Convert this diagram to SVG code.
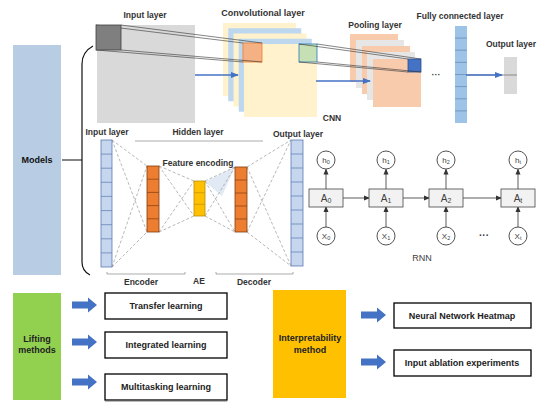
<svg xmlns="http://www.w3.org/2000/svg" width="553" height="408" viewBox="0 0 553 408">
<defs>
<style>
.lbl{font-family:"Liberation Sans",Arial,sans-serif;font-weight:bold;font-size:8.5px;fill:#333;text-anchor:middle}
.blbl{font-family:"Liberation Sans",Arial,sans-serif;font-weight:bold;font-size:9px;fill:#222;text-anchor:middle}
.rl{font-family:"Liberation Sans",Arial,sans-serif;font-size:9px;fill:#404040;text-anchor:middle}
.dash{stroke:#9a9a9a;stroke-width:0.7;stroke-dasharray:3 2;fill:none}
.thin{stroke:#333;stroke-width:0.6;fill:none}
.blue{stroke:#4472c4;stroke-width:1.6;fill:none}
.ib{fill:#c5d6ee;stroke:#5b7bb0;stroke-width:0.8}
.org{fill:#ed7d31;stroke:#843c0c;stroke-width:0.8}
.yel{fill:#ffc000;stroke:#bf9000;stroke-width:0.8}
.rbox{fill:#f2f2f2;stroke:#595959;stroke-width:0.9}
.rc{fill:#fff;stroke:#404040;stroke-width:0.9}
.ar{stroke:#333;stroke-width:0.8;fill:none}
.box{fill:#fff;stroke:#000;stroke-width:1.3}
.fat{fill:#4472c4}
</style>
<marker id="ba" markerWidth="8" markerHeight="8" refX="7" refY="4" orient="auto" markerUnits="userSpaceOnUse"><path d="M0,1 L8,4 L0,7 Z" fill="#4472c4"/></marker>
<marker id="ka" markerWidth="6" markerHeight="6" refX="5" refY="3" orient="auto" markerUnits="userSpaceOnUse"><path d="M0,0.5 L6,3 L0,5.5 Z" fill="#333"/></marker>
<path id="fatArrow" d="M0,-3.5 L16,-3.5 L16,-7.5 L25,0 L16,7.5 L16,3.5 L0,3.5 Z"/>
</defs>

<g id="models">
<rect x="13" y="45" width="48" height="230" fill="#b8cce4"/>
<text class="lbl" x="37" y="163" style="font-size:9px;fill:#111">Models</text>
<path d="M62,160 L82,160" stroke="#222" stroke-width="1.1"/>
<path d="M93,46 Q82,52 82,64 L82,262 Q82,271 90,275" stroke="#111" stroke-width="1.2" fill="none"/>
</g>

<g id="cnn">
<rect x="97" y="25" width="98" height="98" fill="#d9d9d9"/>
<text class="lbl" x="145" y="18">Input layer</text>
<g id="conv-layers">
<rect x="223" y="23" width="73" height="73" fill="#fff2cc"/>
<rect x="228.25" y="28.25" width="73" height="73" fill="#bdd7ee"/>
<rect x="233.5" y="33.5" width="73" height="73" fill="#fff2cc"/>
<rect x="238.75" y="38.75" width="73" height="73" fill="#bdd7ee"/>
<rect x="244" y="44" width="73" height="73" fill="#fff2cc"/>
<rect x="243" y="43" width="19" height="19" fill="#f4b183" stroke="#ed7d31" stroke-width="0.8"/>
<rect x="299" y="44" width="18" height="18" fill="#c5e0b4" stroke="#2e75b6" stroke-width="0.8"/>
</g>
<text class="lbl" x="263" y="16" style="font-size:9px">Convolutional layer</text>
<g id="pool-layers">
<rect x="350" y="34" width="48" height="48" fill="#f8cbad"/>
<rect x="356" y="40" width="48" height="48" fill="#e7e6e6"/>
<rect x="362" y="46" width="48" height="48" fill="#f8cbad"/>
<rect x="367" y="52" width="48" height="48" fill="#e7e6e6"/>
<rect x="373" y="59" width="48" height="48" fill="#f8cbad"/>
<rect x="408" y="59" width="13" height="13" fill="#4472c4" stroke="#2f528f" stroke-width="0.8"/>
</g>
<text class="lbl" x="375" y="28">Pooling layer</text>
<g class="thin">
<line x1="96" y1="25" x2="243" y2="43"/>
<line x1="121" y1="25" x2="262" y2="43"/>
<line x1="96" y1="50" x2="243" y2="62"/>
<line x1="121" y1="50" x2="262" y2="62"/>
<line x1="299" y1="44" x2="408" y2="59"/>
<line x1="317" y1="44" x2="421" y2="59"/>
<line x1="299" y1="62" x2="408" y2="72"/>
<line x1="317" y1="62" x2="421" y2="72"/>
</g>
<rect x="96" y="25" width="25" height="25" fill="#7f7f7f" stroke="#404040" stroke-width="0.8"/>
<line class="blue" x1="195" y1="75" x2="238" y2="75" marker-end="url(#ba)"/>
<line class="blue" x1="316" y1="81" x2="370" y2="81" marker-end="url(#ba)"/>
<text class="rl" x="436" y="78" style="font-weight:bold">···</text>
<g id="fc">
<rect x="455" y="26" width="12" height="97" fill="#9dc3e6"/>
<g stroke="#5b7bb0" stroke-width="0.6">
<line x1="455" y1="38.1" x2="467" y2="38.1"/><line x1="455" y1="50.2" x2="467" y2="50.2"/>
<line x1="455" y1="62.4" x2="467" y2="62.4"/><line x1="455" y1="74.5" x2="467" y2="74.5"/>
<line x1="455" y1="86.6" x2="467" y2="86.6"/><line x1="455" y1="98.8" x2="467" y2="98.8"/>
<line x1="455" y1="110.9" x2="467" y2="110.9"/>
</g>
</g>
<text class="lbl" x="460" y="19">Fully connected layer</text>
<rect x="504" y="57" width="13" height="37" fill="#d9d9d9"/>
<line x1="467" y1="75" x2="517" y2="75" stroke="#666" stroke-width="0.7"/>
<line class="blue" x1="466" y1="75" x2="502" y2="75" marker-end="url(#ba)"/>
<text class="lbl" x="511" y="47">Output layer</text>
<text class="lbl" x="332" y="121">CNN</text>
</g>

<g id="ae">
<text class="lbl" x="107" y="135">Input layer</text>
<text class="lbl" x="198" y="135">Hidden layer</text>
<text class="lbl" x="298" y="137">Output layer</text>
<line x1="135" y1="141" x2="263" y2="141" stroke="#888" stroke-width="0.7"/>
<polygon points="205,182 235,167 222,196" fill="#dae3f3" opacity="0.8"/>
<g class="dash">
<line x1="112" y1="140" x2="147" y2="166"/><line x1="112" y1="140" x2="147" y2="232"/>
<line x1="112" y1="267" x2="147" y2="166"/><line x1="112" y1="267" x2="147" y2="232"/>
<line x1="159" y1="166" x2="194" y2="181"/><line x1="159" y1="166" x2="194" y2="216"/>
<line x1="159" y1="232" x2="194" y2="181"/><line x1="159" y1="232" x2="194" y2="216"/>
<line x1="205" y1="181" x2="235" y2="167"/><line x1="205" y1="181" x2="235" y2="232"/>
<line x1="205" y1="216" x2="235" y2="167"/><line x1="205" y1="216" x2="235" y2="232"/>
<line x1="247" y1="167" x2="291" y2="140"/><line x1="247" y1="167" x2="291" y2="266"/>
<line x1="247" y1="232" x2="291" y2="140"/><line x1="247" y1="232" x2="291" y2="266"/>
</g>
<g id="ae-input">
<rect class="ib" x="101" y="140" width="11" height="127"/>
<g stroke="#5b7bb0" stroke-width="0.7">
<line x1="101" y1="154.1" x2="112" y2="154.1"/><line x1="101" y1="168.2" x2="112" y2="168.2"/>
<line x1="101" y1="182.3" x2="112" y2="182.3"/><line x1="101" y1="196.4" x2="112" y2="196.4"/>
<line x1="101" y1="210.6" x2="112" y2="210.6"/><line x1="101" y1="224.7" x2="112" y2="224.7"/>
<line x1="101" y1="238.8" x2="112" y2="238.8"/><line x1="101" y1="252.9" x2="112" y2="252.9"/>
</g>
</g>
<g id="ae-encoder">
<rect class="org" x="147" y="166" width="12" height="66"/>
<g stroke="#843c0c" stroke-width="0.7">
<line x1="147" y1="179.2" x2="159" y2="179.2"/><line x1="147" y1="192.4" x2="159" y2="192.4"/>
<line x1="147" y1="205.6" x2="159" y2="205.6"/><line x1="147" y1="218.8" x2="159" y2="218.8"/>
</g>
</g>
<g id="ae-code">
<rect class="yel" x="194" y="181" width="11" height="35"/>
<g stroke="#bf9000" stroke-width="0.7">
<line x1="194" y1="192.7" x2="205" y2="192.7"/><line x1="194" y1="204.3" x2="205" y2="204.3"/>
</g>
</g>
<g id="ae-decoder">
<rect class="org" x="235" y="167" width="12" height="65"/>
<g stroke="#843c0c" stroke-width="0.7">
<line x1="235" y1="180" x2="247" y2="180"/><line x1="235" y1="193" x2="247" y2="193"/>
<line x1="235" y1="206" x2="247" y2="206"/><line x1="235" y1="219" x2="247" y2="219"/>
</g>
</g>
<g id="ae-output">
<rect class="ib" x="291" y="140" width="12" height="126"/>
<g stroke="#5b7bb0" stroke-width="0.7">
<line x1="291" y1="154" x2="303" y2="154"/><line x1="291" y1="168" x2="303" y2="168"/>
<line x1="291" y1="182" x2="303" y2="182"/><line x1="291" y1="196" x2="303" y2="196"/>
<line x1="291" y1="210" x2="303" y2="210"/><line x1="291" y1="224" x2="303" y2="224"/>
<line x1="291" y1="238" x2="303" y2="238"/><line x1="291" y1="252" x2="303" y2="252"/>
</g>
</g>
<text class="lbl" x="198" y="166">Feature encoding</text>
<g stroke="#888" stroke-width="0.7" fill="none">
<path d="M107,272 L107,274 L185,274 L185,272"/>
<path d="M216,272 L216,274 L293,274 L293,272"/>
</g>
<text class="lbl" x="141" y="285">Encoder</text>
<text class="lbl" x="199" y="284">AE</text>
<text class="lbl" x="254" y="285">Decoder</text>
</g>

<g id="rnn">
<g class="ar">
<line x1="326" y1="227" x2="326" y2="207" marker-end="url(#ka)"/>
<line x1="326" y1="189" x2="326" y2="169.5" marker-end="url(#ka)"/>
<line x1="386" y1="227" x2="386" y2="207" marker-end="url(#ka)"/>
<line x1="386" y1="189" x2="386" y2="169.5" marker-end="url(#ka)"/>
<line x1="446" y1="227" x2="446" y2="207" marker-end="url(#ka)"/>
<line x1="446" y1="189" x2="446" y2="169.5" marker-end="url(#ka)"/>
<line x1="518" y1="227" x2="518" y2="207" marker-end="url(#ka)"/>
<line x1="518" y1="189" x2="518" y2="169.5" marker-end="url(#ka)"/>
<line x1="343" y1="198" x2="369" y2="198" marker-end="url(#ka)"/>
<line x1="403" y1="198" x2="429" y2="198" marker-end="url(#ka)"/>
<line x1="463" y1="198" x2="501" y2="198" marker-end="url(#ka)"/>
</g>
<g id="rnn-A0"><rect class="rbox" x="309" y="189" width="34" height="18"/><text class="rl" x="326" y="202" style="font-size:10px">A<tspan font-size="7" dy="1">0</tspan></text></g>
<g id="rnn-A1"><rect class="rbox" x="369" y="189" width="34" height="18"/><text class="rl" x="386" y="202" style="font-size:10px">A<tspan font-size="7" dy="1">1</tspan></text></g>
<g id="rnn-A2"><rect class="rbox" x="429" y="189" width="34" height="18"/><text class="rl" x="446" y="202" style="font-size:10px">A<tspan font-size="7" dy="1">2</tspan></text></g>
<g id="rnn-At"><rect class="rbox" x="501" y="189" width="34" height="18"/><text class="rl" x="518" y="202" style="font-size:10px">A<tspan font-size="7" dy="1">t</tspan></text></g>
<g id="rnn-h0"><circle class="rc" cx="326" cy="160" r="9"/><text class="rl" x="326" y="163" style="font-size:8px">h<tspan font-size="5.5" dy="1">0</tspan></text></g>
<g id="rnn-h1"><circle class="rc" cx="386" cy="160" r="9"/><text class="rl" x="386" y="163" style="font-size:8px">h<tspan font-size="5.5" dy="1">1</tspan></text></g>
<g id="rnn-h2"><circle class="rc" cx="446" cy="160" r="9"/><text class="rl" x="446" y="163" style="font-size:8px">h<tspan font-size="5.5" dy="1">2</tspan></text></g>
<g id="rnn-ht"><circle class="rc" cx="518" cy="160" r="9"/><text class="rl" x="518" y="163" style="font-size:8px">h<tspan font-size="5.5" dy="1">t</tspan></text></g>
<g id="rnn-x0"><circle class="rc" cx="326" cy="236" r="9"/><text class="rl" x="326" y="239" style="font-size:8px">X<tspan font-size="5.5" dy="1">0</tspan></text></g>
<g id="rnn-x1"><circle class="rc" cx="386" cy="236" r="9"/><text class="rl" x="386" y="239" style="font-size:8px">X<tspan font-size="5.5" dy="1">1</tspan></text></g>
<g id="rnn-x2"><circle class="rc" cx="446" cy="236" r="9"/><text class="rl" x="446" y="239" style="font-size:8px">X<tspan font-size="5.5" dy="1">2</tspan></text></g>
<g id="rnn-xt"><circle class="rc" cx="518" cy="236" r="9"/><text class="rl" x="518" y="239" style="font-size:8px">X<tspan font-size="5.5" dy="1">t</tspan></text></g>
<text class="rl" x="484" y="239" style="font-weight:bold;font-size:10px">···</text>
<text class="rl" x="422" y="261">RNN</text>
</g>

<g id="lifting">
<rect x="13" y="293" width="48" height="107" fill="#92d050"/>
<text class="blbl" x="37" y="342">Lifting</text>
<text class="blbl" x="37" y="353">methods</text>
</g>
<g id="lift-arrows" class="fat">
<use href="#fatArrow" x="72" y="305"/>
<use href="#fatArrow" x="72" y="342"/>
<use href="#fatArrow" x="72" y="382"/>
</g>
<g id="transfer"><rect class="box" x="105" y="293" width="122" height="26"/><text class="blbl" x="166" y="309">Transfer learning</text></g>
<g id="integrated"><rect class="box" x="105" y="332" width="122" height="26"/><text class="blbl" x="166" y="348">Integrated learning</text></g>
<g id="multitask"><rect class="box" x="105" y="374" width="122" height="26"/><line x1="105" y1="401.5" x2="227" y2="401.5" stroke="#bbb" stroke-width="1"/><text class="blbl" x="166" y="390">Multitasking learning</text></g>

<g id="interp">
<rect x="273" y="290" width="73" height="108" fill="#ffc000"/>
<text class="blbl" x="310" y="341">Interpretability</text>
<text class="blbl" x="310" y="353">method</text>
</g>
<g id="interp-arrows" class="fat">
<use href="#fatArrow" x="361" y="315"/>
<use href="#fatArrow" x="361" y="362"/>
</g>
<g id="heatmap"><rect class="box" x="394" y="303" width="137" height="25"/><text class="blbl" x="462" y="318.5">Neural Network Heatmap</text></g>
<g id="ablation"><rect class="box" x="394" y="350" width="137" height="26"/><text class="blbl" x="462" y="366">Input ablation experiments</text></g>
</svg>
